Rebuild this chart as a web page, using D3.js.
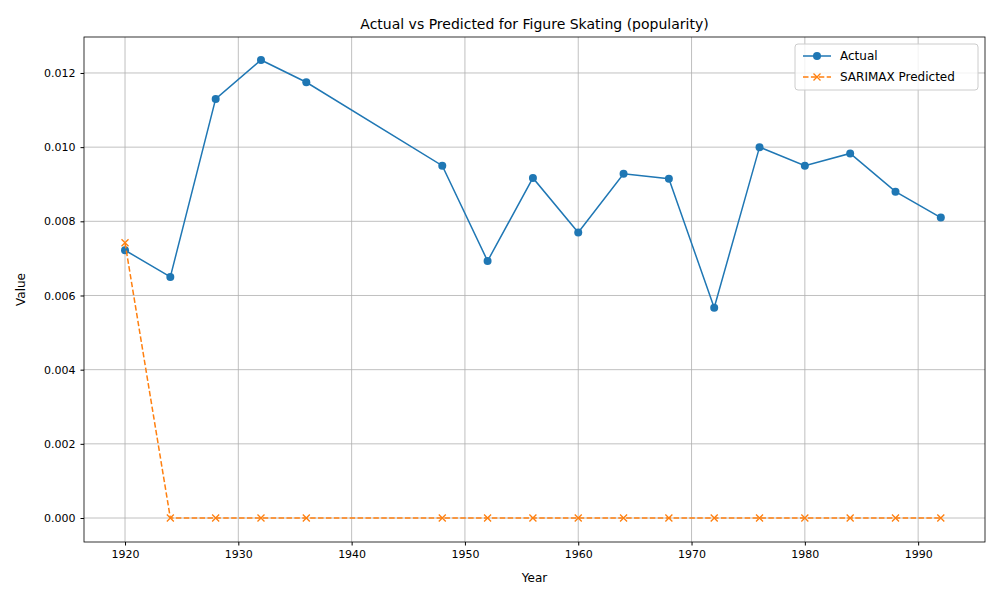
<!DOCTYPE html>
<html><head><meta charset="utf-8">
<script src="https://cdn.jsdelivr.net/npm/d3@7"></script>
<style>body{margin:0;background:#fff;font-family:"DejaVu Sans",sans-serif;}</style>
</head><body><svg id="c" width="1000" height="600"></svg>
<script>
var years = [1920,1924,1928,1932,1936,1948,1952,1956,1960,1964,1968,1972,1976,1980,1984,1988,1992];
var actual = [0.00722,0.0065,0.0113,0.01235,0.01175,0.0095,0.00693,0.00917,0.0077,0.00928,0.00915,0.00567,0.0100,0.0095,0.00983,0.0088,0.0081];
var predicted = [0.00742,0,0,0,0,0,0,0,0,0,0,0,0,0,0,0,0];
var xTicks = [1920,1930,1940,1950,1960,1970,1980,1990];
var yTicks = [0,0.002,0.004,0.006,0.008,0.010,0.012];

var svg = d3.select("#c");
var L=84,R=985,T=37,B=542;
var x = d3.scaleLinear().domain([1916.38,1995.9]).range([L,R]);
var y = d3.scaleLinear().domain([-0.000647,0.01297]).range([B,T]);

var g = svg.append("g");
g.selectAll(".gx").data(xTicks).enter().append("line")
  .attr("x1",d=>x(d)).attr("x2",d=>x(d)).attr("y1",T).attr("y2",B)
  .attr("stroke","#b0b0b0").attr("stroke-width",0.8);
g.selectAll(".gy").data(yTicks).enter().append("line")
  .attr("y1",d=>y(d)).attr("y2",d=>y(d)).attr("x1",L).attr("x2",R)
  .attr("stroke","#b0b0b0").attr("stroke-width",0.8);

var xa = svg.append("g").attr("transform","translate(0,"+B+")")
  .call(d3.axisBottom(x).tickValues(xTicks).tickFormat(d3.format("d")).tickSize(3.5).tickPadding(5));
var ya = svg.append("g").attr("transform","translate("+L+",0)")
  .call(d3.axisLeft(y).tickValues(yTicks).tickFormat(d3.format(".3f")).tickSize(3.5).tickPadding(5));
[xa,ya].forEach(a=>{a.select(".domain").remove();a.selectAll("text").attr("font-size",11).attr("font-family","DejaVu Sans").attr("fill","#000");});

svg.append("rect").attr("x",L).attr("y",T).attr("width",R-L).attr("height",B-T)
  .attr("fill","none").attr("stroke","#000").attr("stroke-width",0.8);

var line = d3.line().x((d,i)=>x(years[i])).y(d=>y(d));
svg.append("path").attr("d",line(actual)).attr("fill","none").attr("stroke","#1f77b4").attr("stroke-width",1.5);
svg.selectAll(".pa").data(actual).enter().append("circle")
  .attr("cx",(d,i)=>x(years[i])).attr("cy",d=>y(d)).attr("r",4).attr("fill","#1f77b4");

svg.append("path").attr("d",line(predicted)).attr("fill","none").attr("stroke","#ff7f0e").attr("stroke-width",1.5).attr("stroke-dasharray","5.5,2.4");
function cross(sel,cx,cy){sel.append("path").attr("d","M"+(cx-3.5)+","+(cy-3.5)+"L"+(cx+3.5)+","+(cy+3.5)+"M"+(cx-3.5)+","+(cy+3.5)+"L"+(cx+3.5)+","+(cy-3.5)).attr("stroke","#ff7f0e").attr("stroke-width",1.3);}
predicted.forEach((d,i)=>cross(svg,x(years[i]),y(d)));

svg.append("text").attr("x",(L+R)/2).attr("y",29).attr("text-anchor","middle").attr("font-size",14).text("Actual vs Predicted for Figure Skating (popularity)");
svg.append("text").attr("x",(L+R)/2).attr("y",582).attr("text-anchor","middle").attr("font-size",12).text("Year");
svg.append("text").attr("transform","translate(25,"+((T+B)/2)+") rotate(-90)").attr("text-anchor","middle").attr("font-size",12).text("Value");

var lg = svg.append("g");
lg.append("rect").attr("x",795).attr("y",44).attr("width",183).attr("height",46).attr("rx",3).attr("fill","#fff").attr("fill-opacity",0.8).attr("stroke","#ccc");
lg.append("line").attr("x1",803).attr("x2",831).attr("y1",56).attr("y2",56).attr("stroke","#1f77b4").attr("stroke-width",1.5);
lg.append("circle").attr("cx",817).attr("cy",56).attr("r",4).attr("fill","#1f77b4");
lg.append("text").attr("x",840).attr("y",60).attr("font-size",12).text("Actual");
lg.append("line").attr("x1",803).attr("x2",831).attr("y1",77).attr("y2",77).attr("stroke","#ff7f0e").attr("stroke-width",1.5).attr("stroke-dasharray","5.5,2.4");
cross(lg,817,77);
lg.append("text").attr("x",840).attr("y",81).attr("font-size",12).text("SARIMAX Predicted");
</script></body></html>
